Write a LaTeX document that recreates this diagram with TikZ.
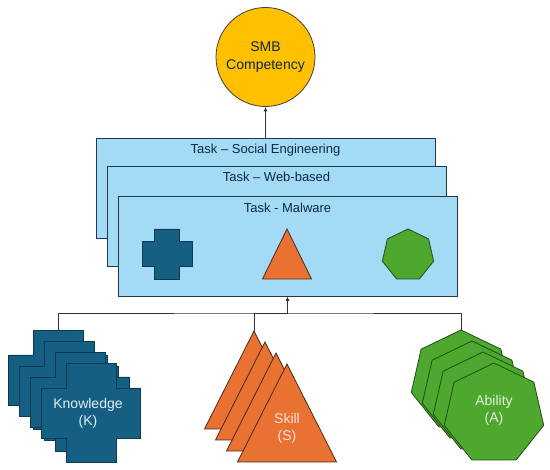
\documentclass[tikz,border=0pt]{standalone}
\usepackage{fontspec}
\setmainfont{Liberation Sans}
\usetikzlibrary{shapes.geometric,arrows.meta}
\definecolor{smbyellow}{HTML}{FFC000}
\definecolor{taskblue}{HTML}{A3DBF6}
\definecolor{taskline}{HTML}{1E3A50}
\definecolor{tasktext}{HTML}{0E2841}
\definecolor{kblue}{HTML}{156082}
\definecolor{kline}{HTML}{0C3A52}
\definecolor{ktext}{HTML}{E3EEF6}
\definecolor{sorange}{HTML}{E97132}
\definecolor{sline}{HTML}{4A2A16}
\definecolor{stext}{HTML}{FBE3D6}
\definecolor{agreen}{HTML}{4EA72E}
\definecolor{aline}{HTML}{1F4F14}
\definecolor{atext}{HTML}{E2F4DA}
\newcommand{\crosspath}[4]{(#1-#4,#2-#3) -- (#1+#4,#2-#3) -- (#1+#4,#2-#4) -- (#1+#3,#2-#4) -- (#1+#3,#2+#4) -- (#1+#4,#2+#4) -- (#1+#4,#2+#3) -- (#1-#4,#2+#3) -- (#1-#4,#2+#4) -- (#1-#3,#2+#4) -- (#1-#3,#2-#4) -- (#1-#4,#2-#4) -- cycle}
\tikzset{
  task/.style={draw=taskline,fill=taskblue,line width=0.9pt,minimum width=339pt,minimum height=100pt,inner sep=0pt},
  tasktitle/.style={text=tasktext,font=\fontsize{13}{16}\selectfont,inner sep=0pt},
  kshape/.style={draw=kline,fill=kblue,line width=0.8pt},
  sshape/.style={draw=sline,fill=sorange,line width=0.8pt,line join=miter},
  ashape/.style={draw=aline,fill=agreen,line width=0.8pt,regular polygon,regular polygon sides=7,inner sep=0pt},
  shapelabel/.style={align=center,font=\fontsize{14}{17}\selectfont,inner sep=0pt},
  conn/.style={draw=black!80,line width=0.8pt}
}
\begin{document}
\begin{tikzpicture}[x=1pt,y=-1pt]
    \useasboundingbox (0,0) rectangle (550,470);
    \node[circle,draw=black!75,line width=0.8pt,fill=smbyellow,minimum size=99pt,inner sep=0pt,align=center,text=tasktext,font=\fontsize{14}{18}\selectfont] (smb) at (265.5,57) {SMB\\Competency};
    \node[task] (social) at (265.5,188) {};
    \node[task] (web) at (276.5,216) {};
    \node[task] (malware) at (287.5,246) {};
    \node[tasktitle] (socialT) at (265.5,150) {Task – Social Engineering};
    \node[tasktitle] (webT) at (276.5,177) {Task – Web-based};
    \node[tasktitle] (malwareT) at (287.5,208) {Task - Malware};
    \draw[kshape] \crosspath{167}{254}{25}{12.5};
    \draw[sshape] (287,229) -- ++(24.5,50) -- ++(-49,0) -- cycle;
    \node[ashape,minimum size=52.6pt] (aIcon) at (408,255.3) {};
    \draw[conn,-{Latex[length=4.5pt,width=4pt]}] (social.north) -- (smb.south);
    \foreach \i in {0,...,3}
        \draw[kshape] \crosspath{58+11*\i}{380+11*\i}{49.5}{25};
    \foreach \i in {0,...,3}
        \draw[sshape] (254+11*\i,331+11*\i) -- ++(49.5,98) -- ++(-99,0) -- cycle;
    \foreach \i in {0,...,3}
        \node[ashape,minimum size=102pt] (a\i) at (461+11*\i,381+11*\i) {};
    \node[shapelabel,text=ktext] (know) at (88,413.5) {Knowledge\\(K)};
    \node[shapelabel,text=stext] (skill) at (287,428.5) {Skill\\(S)};
    \node[shapelabel,text=atext] (ability) at (494,410.5) {Ability\\(A)};
    \coordinate (kTop) at (58,330.5);
    \coordinate (sTop) at (254,331);
    \coordinate (bus) at (287.5,313);
    \draw[conn] (kTop) |- (bus) -| (a0.corner 1);
    \draw[conn] (sTop) |- (bus);
    \draw[conn,-{Latex[length=4.5pt,width=4pt]}] (bus) -- (malware.south);
\end{tikzpicture}
\end{document}
